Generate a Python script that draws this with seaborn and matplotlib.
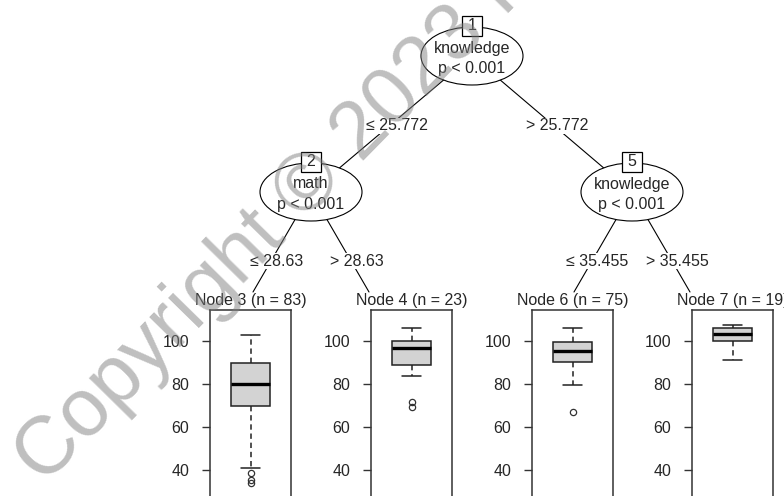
import matplotlib
matplotlib.use('Agg')
import matplotlib.pyplot as plt
from matplotlib.patches import Ellipse, Rectangle
import pandas as pd
import seaborn as sns

# inner nodes of the conditional tree
inner_ids = [1, 2, 5]
inner_vars = ['knowledge', 'math', 'knowledge']
inner_p = ['p < 0.001', 'p < 0.001', 'p < 0.001']

# split labels (left / right child of each inner node)
split_left = ['≤ 25.772', '≤ 28.63', '≤ 35.455']
split_right = ['> 25.772', '> 28.63', '> 35.455']

# terminal nodes
term_ids = [3, 4, 6, 7]
term_n = [83, 23, 75, 19]

node3_score = [34.0, 35.5, 38.5, 40.8, 69.7, 69.7, 69.7, 69.7, 69.7, 80.2,
               89.7, 89.7, 89.7, 89.7, 89.7, 102.8, 102.8, 102.8, 102.8]
node4_score = [69.5, 71.5, 83.8, 89.0, 89.0, 89.0, 89.0, 96.7,
               100.0, 100.0, 100.0, 100.0, 106.2, 106.2, 106.2]
node6_score = [66.9, 79.4, 90.3, 90.3, 90.3, 95.5, 99.4, 99.4, 99.4, 106.2, 106.2]
node7_score = [91.1, 100.0, 100.0, 103.3, 106.2, 106.2, 107.2]
y_ticks = [40, 60, 80, 100]

scores = [node3_score, node4_score, node6_score, node7_score]

sns.set_style('white')
plt.rcParams['font.family'] = ['Liberation Sans', 'DejaVu Sans']
FS = 11.5

W, H = 784, 496
fig = plt.figure(figsize=(W / 100, H / 100), dpi=100)

#%% tree part, drawn in pixel coordinates
tree = fig.add_axes([0, 0, 1, 1])
tree.set_xlim(0, W)
tree.set_ylim(H, 0)
tree.axis('off')

node_xy = {1: (472, 56), 2: (311, 192), 5: (632, 192)}
children = {1: (2, 5), 2: (3, 4), 5: (6, 7)}
label_xy = {1: ((397, 126), (557, 126)),
            2: ((277, 261), (357, 261)),
            5: ((597, 261), (677, 261))}

for k, nid in enumerate(inner_ids):
    px, py = node_xy[nid]
    ends = []
    for side, cid in zip((-1, 1), children[nid]):
        if cid in node_xy:
            ends.append(node_xy[cid])
        else:
            ends.append((px + side * 58, 292))
    for (ex, ey), lab, (lx, ly) in zip(ends, (split_left[k], split_right[k]), label_xy[nid]):
        tree.plot([px, ex], [py, ey], color='black', lw=0.8, zorder=1)
        tree.text(lx, ly, lab, ha='center', va='center', fontsize=FS, zorder=3,
                  bbox=dict(boxstyle='square,pad=0.05', fc='white', ec='none'))
    tree.add_patch(Ellipse((px, py), 102, 58, fc='white', ec='black', lw=0.8, zorder=4))
    tree.text(px, py - 8, inner_vars[k], ha='center', va='center', fontsize=FS, zorder=5)
    tree.text(px, py + 12, inner_p[k], ha='center', va='center', fontsize=FS, zorder=5)
    tree.add_patch(Rectangle((px - 10, py - 40), 20, 20, fc='white', ec='black', lw=0.9, zorder=6))
    tree.text(px, py - 30, str(nid), ha='center', va='center', fontsize=FS, zorder=7)

#%% terminal panels with boxplots
panel_left = [210, 371, 532, 692]
panel_w = 81
top_px = 310
ylo, yhi = 20, 114.4
px_per_unit = 2.15
bottom_px = top_px + (yhi - ylo) * px_per_unit

for nid, n, vals, left in zip(term_ids, term_n, scores, panel_left):
    tree.text(left + panel_w / 2, 301, f'Node {nid} (n = {n})', ha='center',
              va='center', fontsize=FS, zorder=5)
    ax = fig.add_axes([left / W, 1 - bottom_px / H, panel_w / W, (bottom_px - top_px) / H])
    df = pd.DataFrame({'score': vals})
    sns.boxplot(data=df, y='score', ax=ax, width=0.49, color='#d3d3d3', saturation=1,
                linecolor='#222222', linewidth=1.1, whis=1.5, fliersize=4.5,
                flierprops=dict(marker='o', markerfacecolor='none',
                                markeredgecolor='#333333', markeredgewidth=0.9),
                medianprops=dict(color='black', linewidth=2.4),
                whiskerprops=dict(linestyle=(0, (3.5, 2.5))))
    ax.set_xlim(-0.5, 0.5)
    ax.set_ylim(ylo, yhi)
    ax.set_xticks([])
    ax.set_yticks(y_ticks)
    ax.set_ylabel('')
    ax.set_xlabel('')
    ax.tick_params(axis='y', left=True, length=6, width=1, color='#333333',
                   pad=9, labelsize=FS)
    for s in ax.spines.values():
        s.set_visible(True)
        s.set_color('#333333')
        s.set_linewidth(1.1)

# watermark
fig.text(44 / W, 1 - 486 / H, 'Copyright © 2023 I', rotation=45.5, rotation_mode='anchor',
         ha='left', va='baseline', fontsize=58.5, color='#808080', alpha=0.5, zorder=10)

fig.savefig('out.png', dpi=100)
